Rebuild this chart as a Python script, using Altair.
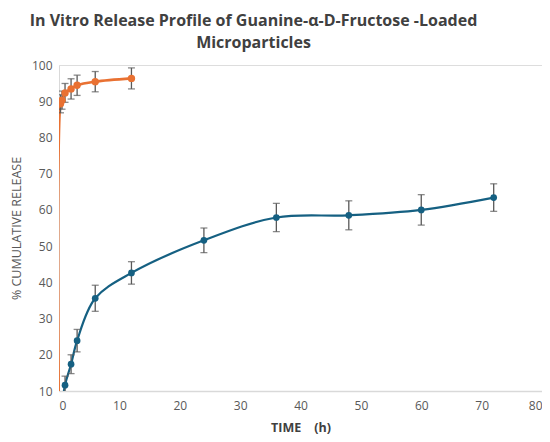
import altair as alt
import pandas as pd

# Blue series (Guanine-α-D-Fructose microparticles)
time_blue = [0, 1, 2, 3, 6, 12, 24, 36, 48, 60, 72]
rel_blue = [0, 11.6, 17.4, 23.9, 35.6, 42.6, 51.6, 57.9, 58.5, 60.0, 63.4]
err_blue = [0, 2.5, 2.6, 3.1, 3.6, 3.1, 3.4, 3.9, 4.0, 4.2, 3.8]

# Orange series
time_orange = [0, 0.25, 0.5, 1, 2, 3, 6, 12]
rel_orange = [0, 89.3, 90.3, 92.3, 93.4, 94.4, 95.4, 96.3]
err_orange = [0, 2.5, 2.5, 2.6, 2.8, 2.8, 2.8, 2.9]

x_ticks = [0, 10, 20, 30, 40, 50, 60, 70, 80]
y_ticks = [10, 20, 30, 40, 50, 60, 70, 80, 90, 100]

BLUE = "#156082"
ORANGE = "#E97132"
GRAY = "#595959"

def frame(t, r, e, name):
    return pd.DataFrame({
        "time": t, "release": r,
        "lo": [a - b for a, b in zip(r, e)],
        "hi": [a + b for a, b in zip(r, e)],
        "series": name,
    })

df_b = frame(time_blue, rel_blue, err_blue, "blue")
df_o = frame(time_orange, rel_orange, err_orange, "orange")

xs = alt.Scale(domain=[0, 80], nice=False)
ys = alt.Scale(domain=[10, 100], nice=False)

x_axis = alt.Axis(values=x_ticks, grid=False, ticks=False, domain=True,
                  domainColor="#d9d9d9", domainWidth=1.5, labelColor=GRAY,
                  labelFontSize=12, labelPadding=9, labelOverlap=False,
                  title="TIME\u00a0\u00a0\u00a0\u00a0(h)",
                  titleFontWeight="bold", titleFontSize=12.5, titleColor="#404040",
                  titlePadding=10)
y_axis = alt.Axis(values=y_ticks, grid=False, ticks=False, domain=True,
                  domainColor="#d9d9d9", domainWidth=1, labelColor=GRAY,
                  labelFontSize=12, labelPadding=7, labelOverlap=False,
                  title="% CUMULATIVE RELEASE",
                  titleFontWeight="normal", titleFontSize=12.5, titleColor=GRAY,
                  titlePadding=8)

X = lambda f: alt.X(f, type="quantitative", scale=xs, axis=x_axis)
Y = lambda f: alt.Y(f, type="quantitative", scale=ys, axis=y_axis)

def layers(df, color, pt_size, lw):
    line = alt.Chart(df).mark_line(color=color, strokeWidth=lw, interpolate="catmull-rom", clip=True).encode(
        x=X("time"), y=Y("release"))
    eb = alt.Chart(df[df["time"] > 0])
    rule = eb.mark_rule(color=GRAY, strokeWidth=1.3, clip=True).encode(
        x=X("time"), y=Y("lo"), y2="hi")
    cap_lo = eb.mark_tick(color=GRAY, thickness=1.3, size=7, orient="horizontal", clip=True).encode(
        x=X("time"), y=Y("lo"))
    cap_hi = eb.mark_tick(color=GRAY, thickness=1.3, size=7, orient="horizontal", clip=True).encode(
        x=X("time"), y=Y("hi"))
    pts = eb.mark_point(color=color, filled=True, opacity=1, size=pt_size, clip=True).encode(
        x=X("time"), y=Y("release"))
    return [line, rule, cap_lo, cap_hi, pts]

chart = alt.layer(
    *layers(df_b, BLUE, 45, 2.2),
    *layers(df_o, ORANGE, 55, 2.6),
).properties(
    width=534, height=426,
    padding={"left": 2, "top": 5, "right": 0, "bottom": 0},
    autosize=alt.AutoSizeParams(type="fit", contains="padding"),
    title=alt.TitleParams(
        ["In Vitro Release Profile of Guanine-α-D-Fructose -Loaded", "Microparticles"],
        fontSize=16, fontWeight="bold", color="#404040", font="Open Sans",
        anchor="middle", offset=8, lineHeight=22, dx=-47,
    ),
).configure_view(stroke=None).configure(font="Open Sans").configure_axis(labelOverlap=False)

chart.save("out.html", embed_options={"renderer": "svg", "actions": False})
